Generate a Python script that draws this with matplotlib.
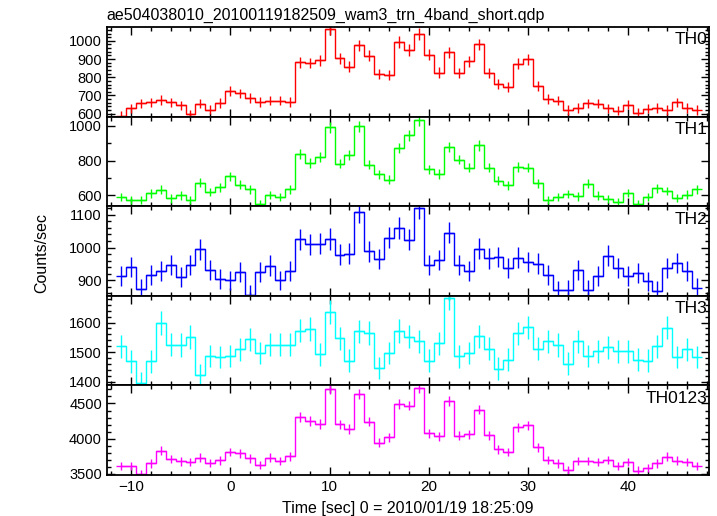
import numpy as np
import matplotlib
matplotlib.use('agg')
import matplotlib.pyplot as plt
from matplotlib.ticker import MultipleLocator

plt.rcParams['font.family'] = ['Liberation Sans', 'DejaVu Sans']

# bin centres, 1 sec bins
time = np.arange(-11, 48)

th0 = [589, 630, 656, 663, 674, 663, 646, 598, 654, 622, 659, 726, 711, 687, 665, 672, 672, 665,
       881, 878, 893, 1065, 904, 859, 976, 919, 817, 811, 994, 950, 1039, 924, 826, 937, 822, 887,
       981, 824, 765, 744, 874, 898, 752, 680, 672, 620, 631, 657, 654, 630, 617, 650, 606, 628,
       631, 620, 663, 631, 620]
th1 = [592, 575, 575, 611, 632, 583, 600, 575, 672, 619, 647, 709, 660, 636, 549, 602, 591, 636,
       840, 785, 823, 991, 783, 830, 998, 777, 721, 689, 872, 946, 1032, 749, 723, 877, 806, 760,
       887, 760, 685, 657, 764, 760, 670, 575, 591, 608, 594, 666, 598, 579, 562, 613, 551, 591,
       640, 626, 585, 604, 636]
th2 = [913, 940, 875, 917, 928, 946, 910, 946, 995, 932, 905, 900, 925, 856, 925, 945, 900, 930,
       1025, 1010, 1012, 1026, 978, 981, 1108, 988, 965, 1030, 1060, 1024, 1119, 946, 962, 1045,
       946, 929, 997, 967, 971, 937, 969, 955, 951, 916, 870, 872, 931, 872, 913, 975, 937, 913,
       923, 897, 868, 937, 952, 929, 877]
th3 = [1520, 1469, 1396, 1469, 1599, 1525, 1524, 1551, 1422, 1487, 1483, 1487, 1510, 1544, 1497,
       1525, 1525, 1525, 1573, 1579, 1493, 1637, 1547, 1471, 1570, 1565, 1446, 1497, 1571, 1552,
       1537, 1471, 1530, 1685, 1485, 1497, 1554, 1512, 1444, 1474, 1564, 1584, 1512, 1536, 1524,
       1461, 1536, 1487, 1502, 1516, 1502, 1502, 1474, 1471, 1520, 1583, 1483, 1510, 1483]
th0123 = [3610, 3610, 3495, 3652, 3829, 3710, 3681, 3671, 3733, 3657, 3695, 3814, 3795, 3724,
          3629, 3733, 3686, 3752, 4310, 4252, 4210, 4710, 4205, 4138, 4638, 4243, 3943, 4024,
          4495, 4471, 4724, 4081, 4033, 4538, 4043, 4067, 4414, 4052, 3852, 3810, 4162, 4190,
          3876, 3700, 3652, 3557, 3686, 3686, 3671, 3700, 3614, 3667, 3548, 3581, 3652, 3748,
          3690, 3671, 3610]

series = [th0, th1, th2, th3, th0123]
names = ['TH0', 'TH1', 'TH2', 'TH3', 'TH0123']
colors = ['#ff0000', '#00ff00', '#0000ff', '#00ffff', '#ff00ff']
ylims = [(584, 1076), (538, 1053), (853, 1126), (1387, 1691), (3486, 4757)]
majors = [100, 200, 100, 100, 500]
minors = [20, 100, 20, 20, 100]

fig = plt.figure(figsize=(7.17, 5.16), dpi=100)
axes = fig.subplots(5, 1, sharex=True)
fig.subplots_adjust(left=0.149, right=0.989, top=0.9477, bottom=0.0795, hspace=0)

for i, ax in enumerate(axes):
    v = np.array(series[i], dtype=float)
    err = np.sqrt(v)  # counting errors, 1 sec bins
    ax.step(time, v, where='mid', color=colors[i], lw=1)
    ax.errorbar(time, v, yerr=err, xerr=0.5, fmt='none', ecolor=colors[i], elinewidth=1, capsize=0)
    ax.set_ylim(ylims[i])
    ax.set_xlim(-12.42, 48.2)
    ax.yaxis.set_major_locator(MultipleLocator(majors[i]))
    ax.yaxis.set_minor_locator(MultipleLocator(minors[i]))
    ax.xaxis.set_major_locator(MultipleLocator(10))
    ax.xaxis.set_minor_locator(MultipleLocator(2))
    ax.tick_params(which='both', direction='in', top=True, right=True, labelsize=10.5, width=1)
    ax.tick_params(which='major', length=6)
    ax.tick_params(which='minor', length=3)
    for s in ax.spines.values():
        s.set_linewidth(1.3)
    ax.text(0.997, 0.94, names[i], transform=ax.transAxes, ha='right', va='top', fontsize=12.5)

axes[-1].tick_params(axis='x', labelsize=11)
axes[0].set_title('ae504038010_20100119182509_wam3_trn_4band_short.qdp', loc='left', fontsize=11.5, pad=5)
axes[-1].set_xlabel('Time [sec] 0 = 2010/01/19 18:25:09', fontsize=11.5, labelpad=5)
fig.text(0.058, 0.51, 'Counts/sec', rotation=90, ha='center', va='center', fontsize=11.5)

plt.savefig('out.png')
